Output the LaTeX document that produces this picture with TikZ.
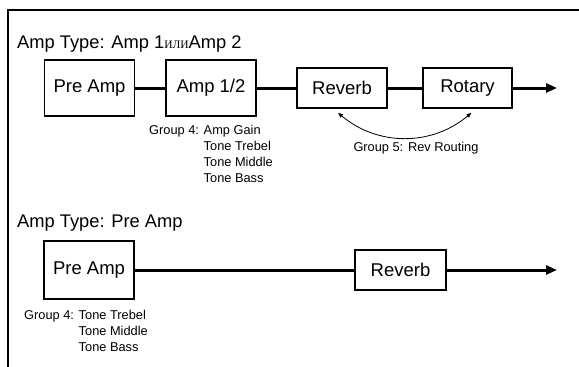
\documentclass[tikz,border=0pt]{standalone}
\usepackage{fontspec}
\setmainfont{Liberation Sans}
\newfontfamily\cyrserif{Liberation Serif}
\usetikzlibrary{arrows.meta}

\begin{document}
\begin{tikzpicture}[x=1pt,y=-1pt,
  block/.style={draw,line width=1.6pt,font=\fontsize{18.5}{20}\selectfont},
  signal/.style={line width=3pt},
  title/.style={anchor=base west,inner sep=0,font=\fontsize{18.3}{20}\selectfont},
  param/.style={inner sep=0,font=\fontsize{12.8}{16}\selectfont}]
\useasboundingbox (0,0) rectangle (579,367);
\draw[line width=1.2pt] (579,10) -- (8,10) -- (8,367);
% Amp 1 / Amp 2
\node[title] (t1) at (17,48) {Amp Type: Amp 1{\cyrserif\fontsize{11.5}{12}\selectfont ИЛИ}Amp 2};
\node[block,minimum width=90pt,minimum height=56pt] (preA) at (89.5,88) {Pre Amp};
\node[block,minimum width=90pt,minimum height=56pt] (ampA) at (211,88) {Amp 1/2};
\node[block,minimum width=90pt,minimum height=40pt] (revA) at (342,88) {Reverb};
\node[block,minimum width=89pt,minimum height=40pt] (rotA) at (467.5,88) {Rotary};
\coordinate (outA) at (557,88);
\draw[signal] (preA) -- (ampA);
\draw[signal] (ampA) -- (revA);
\draw[signal] (revA) -- (rotA);
\draw[signal,-{Triangle[length=11pt,width=9pt]}] (rotA) -- (outA);
\draw[line width=0.8pt,{Triangle[length=5pt,width=4pt]}-{Triangle[length=5pt,width=4pt]}]
  ([shift={(-4pt,-4pt)}]revA.south) to[bend right=40] ([shift={(4pt,-4pt)}]rotA.south);
\node[param] (g5) at (416,148) {Group 5: Rev Routing};
\node[param,anchor=north west] (g4a) at (149,123)
  {\begin{tabular}{@{}l@{ }l@{}}Group 4:&Amp Gain\\&Tone Trebel\\&Tone Middle\\&Tone Bass\end{tabular}};
% Pre Amp
\node[title] (t2) at (17,227) {Amp Type: Pre Amp};
\node[block,minimum width=90pt,minimum height=58pt] (preB) at (89,270) {Pre Amp};
\node[block,minimum width=91pt,minimum height=40pt] (revB) at (400.5,270) {Reverb};
\coordinate (outB) at (557,270);
\draw[signal] (preB) -- (revB);
\draw[signal,-{Triangle[length=11pt,width=9pt]}] (revB) -- (outB);
\node[param,anchor=north west] (g4b) at (24,308)
  {\begin{tabular}{@{}l@{ }l@{}}Group 4:&Tone Trebel\\&Tone Middle\\&Tone Bass\end{tabular}};
\end{tikzpicture}
\end{document}
